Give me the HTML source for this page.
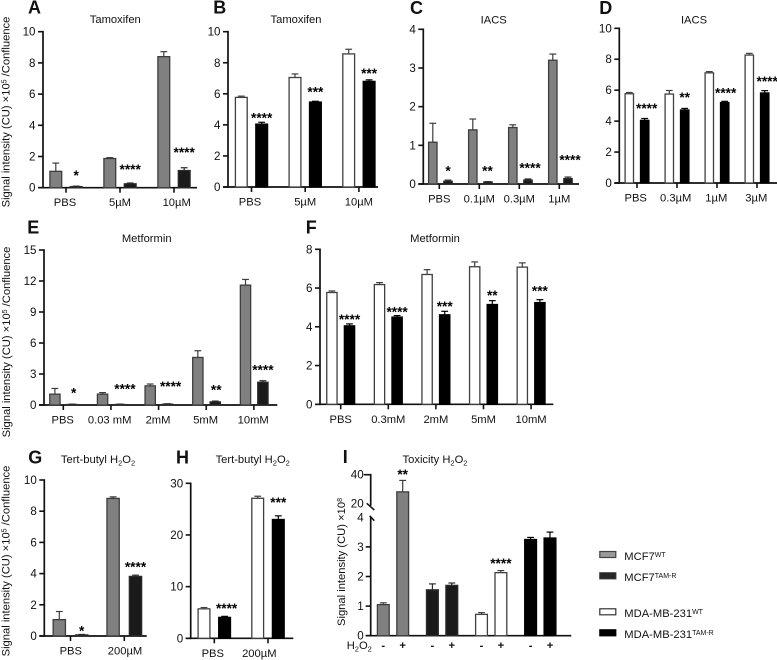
<!DOCTYPE html>
<html lang="en">
<head>
<meta charset="utf-8">
<title>Signal intensity bar charts</title>
<style>
html,body{margin:0;padding:0;background:#fff;}
body{width:777px;height:660px;overflow:hidden;}
svg{display:block;filter:blur(0.3px);font-family:"Liberation Sans",sans-serif;fill:#111;}
text{font-size:11.2px;}
</style>
</head>
<body>
<svg id="figure" width="777" height="660" viewBox="0 0 777 660" xmlns="http://www.w3.org/2000/svg">
  <text transform="translate(9.5,112) rotate(-90)" text-anchor="middle">Signal intensity (CU) ×10<tspan dy="-3" style="font-size:7px">5</tspan><tspan dy="3"> /Confluence</tspan></text>
  <text transform="translate(10,342) rotate(-90)" text-anchor="middle">Signal intensity (CU) ×10<tspan dy="-3" style="font-size:7px">5</tspan><tspan dy="3"> /Confluence</tspan></text>
  <text transform="translate(9.5,561) rotate(-90)" text-anchor="middle">Signal intensity (CU) ×10<tspan dy="-3" style="font-size:7px">5</tspan><tspan dy="3"> /Confluence</tspan></text>
  <text transform="translate(345,562) rotate(-90)" text-anchor="middle">Signal intensity (CU) ×10<tspan dy="-3" style="font-size:7px">8</tspan></text>

  <g>
    <rect x="599.8" y="551.5" width="16" height="6" fill="#9a9a9a" stroke="#444" stroke-width="1.2"/>
    <text x="624.3" y="560">MCF7<tspan dy="-3" style="font-size:7px">WT</tspan></text>
    <rect x="599.8" y="572.8" width="16" height="6" fill="#262626" stroke="#333" stroke-width="1.2"/>
    <text x="624.3" y="581">MCF7<tspan dy="-3" style="font-size:7px">TAM-R</tspan></text>
    <rect x="599.8" y="608.8" width="16" height="6" fill="#fff" stroke="#333" stroke-width="1.2"/>
    <text x="624.3" y="617">MDA-MB-231<tspan dy="-3" style="font-size:7px">WT</tspan></text>
    <rect x="599.8" y="629.8" width="16" height="6" fill="#000" stroke="#000" stroke-width="1.2"/>
    <text x="624.3" y="638">MDA-MB-231<tspan dy="-3" style="font-size:7px">TAM-R</tspan></text>
  </g>
</svg>
<script>
// ---------- Chart data ----------
const panelAGroups = ['PBS', '5µM', '10µM'];
const panelATicks = [0, 2, 4, 6, 8, 10];
const panelAControl = [1.05, 1.87, 8.4];
const panelAControlErr = [0.53, 0.06, 0.32];
const panelATreated = [0.07, 0.25, 1.1];
const panelATreatedErr = [0.03, 0.05, 0.18];
const panelAStars = ['*', '****', '****'];

const panelBGroups = ['PBS', '5µM', '10µM'];
const panelBTicks = [0, 2, 4, 6, 8, 10];
const panelBControl = [5.77, 7.05, 8.57];
const panelBControlErr = [0.08, 0.23, 0.3];
const panelBTreated = [4.05, 5.47, 6.8];
const panelBTreatedErr = [0.12, 0.05, 0.1];
const panelBStars = ['****', '***', '***'];

const panelCGroups = ['PBS', '0.1µM', '0.3µM', '1µM'];
const panelCTicks = [0, 1, 2, 3, 4];
const panelCControl = [1.08, 1.4, 1.46, 3.2];
const panelCControlErr = [0.49, 0.28, 0.07, 0.16];
const panelCTreated = [0.07, 0.05, 0.1, 0.14];
const panelCTreatedErr = [0.03, 0.01, 0.03, 0.04];
const panelCStars = ['*', '**', '****', '****'];

const panelDGroups = ['PBS', '0.3µM', '1µM', '3µM'];
const panelDTicks = [0, 2, 4, 6, 8, 10];
const panelDControl = [5.77, 5.75, 7.12, 8.27];
const panelDControlErr = [0.08, 0.23, 0.08, 0.11];
const panelDTreated = [4.05, 4.72, 5.2, 5.82];
const panelDTreatedErr = [0.12, 0.1, 0.08, 0.15];
const panelDStars = ['****', '**', '****', '****'];

const panelEGroups = ['PBS', '0.03 mM', '2mM', '5mM', '10mM'];
const panelETicks = [0, 3, 6, 9, 12, 15];
const panelEControl = [1.05, 1.05, 1.85, 4.6, 11.6];
const panelEControlErr = [0.55, 0.15, 0.18, 0.65, 0.55];
const panelETreated = [0.05, 0.05, 0.08, 0.3, 2.2];
const panelETreatedErr = [0.03, 0.03, 0.04, 0.08, 0.15];
const panelEStars = ['*', '****', '****', '**', '****'];

const panelFGroups = ['PBS', '0.3mM', '2mM', '5mM', '10mM'];
const panelFTicks = [0, 2, 4, 6, 8];
const panelFControl = [5.77, 6.18, 6.7, 7.1, 7.08];
const panelFControlErr = [0.08, 0.1, 0.25, 0.25, 0.22];
const panelFTreated = [4.05, 4.5, 4.62, 5.15, 5.25];
const panelFTreatedErr = [0.1, 0.08, 0.18, 0.2, 0.15];
const panelFStars = ['****', '****', '***', '**', '***'];

const panelGGroups = ['PBS', '200µM'];
const panelGTicks = [0, 2, 4, 6, 8, 10];
const panelGControl = [1.05, 8.82];
const panelGControlErr = [0.52, 0.1];
const panelGTreated = [0.07, 3.82];
const panelGTreatedErr = [0.03, 0.08];
const panelGStars = ['*', '****'];

const panelHGroups = ['PBS', '200µM'];
const panelHTicks = [0, 10, 20, 30];
const panelHControl = [5.7, 27.1];
const panelHControlErr = [0.25, 0.4];
const panelHTreated = [4.05, 23];
const panelHTreatedErr = [0.2, 0.7];
const panelHStars = ['****', '***'];

const panelISigns = ['-', '+', '-', '+', '-', '+', '-', '+'];
const panelILowTicks = [0, 1, 2, 3, 4];
const panelIHighTicks = [20, 40];
const panelIValues = [1.05, 28, 1.55, 1.7, 0.72, 2.13, 3.25, 3.3];
const panelIErrors = [0.06, 8, 0.2, 0.08, 0.06, 0.07, 0.07, 0.2];
const panelIStars = ['', '**', '', '', '', '****', '', ''];

// ---------- Styles ----------
const GRAY = {fill: '#808080', stroke: '#3d3d3d'};
const DARK = {fill: '#1a1a1a', stroke: '#2a2a2a'};
const WHITE = {fill: '#ffffff', stroke: '#404040'};
const BLACK = {fill: '#000000', stroke: '#000000'};
const AXIS = '#111';

// ---------- Drawing helpers ----------
const NS = 'http://www.w3.org/2000/svg';
const root = document.getElementById('figure');
function make(tag, parent, attrs) {
  const node = document.createElementNS(NS, tag);
  for (const k in attrs) node.setAttribute(k, attrs[k]);
  parent.appendChild(node);
  return node;
}
function drawBar(parent, name, cx, w, yBase, yVal, yErr, style) {
  const bar = make('rect', parent, {x: cx - w / 2 + 0.6, y: yVal, width: w - 1.2, height: Math.max(0.2, yBase - yVal),
    fill: style.fill, stroke: style.stroke, 'stroke-width': 1.3});
  
  
  const stem = make('line', parent, {x1: cx, x2: cx, y1: yVal, y2: yErr, stroke: style.stroke, 'stroke-width': 1.2});
  
  
  const cap = make('line', parent, {x1: cx - 3.4, x2: cx + 3.4, y1: yErr, y2: yErr, stroke: style.stroke, 'stroke-width': 1.2});
  
  
}
function drawStars(parent, name, text, x, cy) {
  const t = make('text', parent, {x: x, y: cy + 7.2, 'text-anchor': 'middle', fill: '#000', 'font-weight': 'bold'});
  t.style.fontSize = '13.7px';
  t.textContent = text;
  
  
}
function drawFrameText(parent, id, letter, lx, ly, title, tx, ty) {
  const l = make('text', parent, {x: lx, y: ly, 'font-weight': 'bold'});
  l.style.fontSize = '18px';
  l.textContent = letter;
  
  
  const t = make('text', parent, {x: tx, y: ty, 'text-anchor': 'middle'});
  
  
  title.forEach(part => {
    const s = make('tspan', t, part[1] ? {dy: 2.5} : {dy: part[2] ? -2.5 : 0});
    if (part[1]) s.style.fontSize = '7.5px';
    s.textContent = part[0];
  });
}

function drawPanel(cfg) {
  const g = make('g', root, {});
  
  
  drawFrameText(g, cfg.id, cfg.letter, cfg.lx, cfg.ly, cfg.title, cfg.tx, cfg.ty);

  const yMax = cfg.ticks[cfg.ticks.length - 1];
  const y = v => cfg.y0 - (v / yMax) * (cfg.y0 - cfg.yTop);
  const xTick = i => cfg.firstTick + i * cfg.step;

  const yAxis = make('line', g, {x1: cfg.ax, x2: cfg.ax, y1: cfg.yTop - 0.8, y2: cfg.y0 + 0.8, stroke: AXIS, 'stroke-width': 1.7});
  
  
  const xAxis = make('line', g, {x1: cfg.ax - 5, x2: cfg.xEnd, y1: cfg.y0, y2: cfg.y0, stroke: AXIS, 'stroke-width': 1.7});
  
  

  cfg.ticks.forEach(v => {
    const t = make('line', g, {x1: cfg.ax - 5, x2: cfg.ax, y1: y(v), y2: y(v), stroke: AXIS, 'stroke-width': 1.6});
    
    
    const l = make('text', g, {x: cfg.ax - 7.5, y: y(v) + 4, 'text-anchor': 'end'});
    l.textContent = v;
    l.style.fontSize = '11.6px';
    
    
  });

  cfg.groups.forEach((name, i) => {
    const x = xTick(i);
    const t = make('line', g, {x1: x, x2: x, y1: cfg.y0, y2: cfg.y0 + 5, stroke: AXIS, 'stroke-width': 1.6});
    
    
    const l = make('text', g, {x: x + (cfg.labelDx ? cfg.labelDx[i] : 0), y: cfg.y0 + 18.5, 'text-anchor': 'middle'});
    l.textContent = name;
    
    

    const cx1 = x - cfg.off + (cfg.barDx || 0);
    const cx2 = x + cfg.off + (cfg.barDx || 0);
    drawBar(g, cfg.id + '-control-' + i, cx1, cfg.barW, cfg.y0, y(cfg.control[i]), y(cfg.control[i] + cfg.controlErr[i]), cfg.styleA);
    drawBar(g, cfg.id + '-treated-' + i, cx2, cfg.barW, cfg.y0, y(cfg.treated[i]), y(cfg.treated[i] + cfg.treatedErr[i]), cfg.styleB);
    drawStars(g, cfg.id + '-' + i, cfg.stars[i], cx2 + (cfg.starDx ? cfg.starDx[i] : 0), y(cfg.treated[i] + cfg.treatedErr[i]) - cfg.starGap[i]);
  });
}

drawPanel({id: 'a', letter: 'A', lx: 28, ly: 13.5, title: [['Tamoxifen']], tx: 115.3, ty: 23,
  ax: 43, y0: 187.7, yTop: 31.7, xEnd: 197, firstTick: 66, step: 54, off: 10.2, barW: 13, barDx: 0,
  labelDx: [-1, 0, 2.7],
  ticks: panelATicks, groups: panelAGroups, control: panelAControl, controlErr: panelAControlErr,
  treated: panelATreated, treatedErr: panelATreatedErr, stars: panelAStars, starGap: [13.4, 16, 17.7],
  styleA: GRAY, styleB: DARK});
drawPanel({id: 'b', letter: 'B', lx: 213.3, ly: 13.5, title: [['Tamoxifen']], tx: 296, ty: 23,
  ax: 228, y0: 187, yTop: 31.7, xEnd: 378, firstTick: 251.5, step: 53.7, off: 10.2, barW: 13, barDx: 0,
  labelDx: [-1.5, 0, 0],
  ticks: panelBTicks, groups: panelBGroups, control: panelBControl, controlErr: panelBControlErr,
  treated: panelBTreated, treatedErr: panelBTreatedErr, stars: panelBStars, starGap: [7, 12, 9],
  styleA: WHITE, styleB: BLACK});
drawPanel({id: 'c', letter: 'C', lx: 410, ly: 14, title: [['IACS']], tx: 493.7, ty: 23.5,
  ax: 423.3, y0: 184, yTop: 29.3, xEnd: 579, firstTick: 439.3, step: 40, off: 7.6, barW: 9.6, barDx: 1.1,
  ticks: panelCTicks, groups: panelCGroups, control: panelCControl, controlErr: panelCControlErr,
  treated: panelCTreated, treatedErr: panelCTreatedErr, stars: panelCStars, starGap: [11.8, 13.4, 13.7, 19.7],
  starDx: [0, -0.5, 2, 2], styleA: GRAY, styleB: DARK});
drawPanel({id: 'd', letter: 'D', lx: 599.3, ly: 14, title: [['IACS']], tx: 694, ty: 23.5,
  ax: 619.3, y0: 183, yTop: 28.3, xEnd: 777, firstTick: 637, step: 40, off: 7.7, barW: 9.6, barDx: 0,
  labelDx: [-1.3, -1.3, -0.7, -0.7],
  ticks: panelDTicks, groups: panelDGroups, control: panelDControl, controlErr: panelDControlErr,
  treated: panelDTreated, treatedErr: panelDTreatedErr, stars: panelDStars, starGap: [12.5, 13.4, 11, 12],
  starDx: [2, 0, 1, 2.5], styleA: WHITE, styleB: BLACK});
drawPanel({id: 'e', letter: 'E', lx: 27.3, ly: 233.3, title: [['Metformin']], tx: 146.7, ty: 242,
  ax: 44, y0: 405, yTop: 250, xEnd: 277.3, firstTick: 63.3, step: 47.65, off: 8.7, barW: 11.5, barDx: 0.3,
  labelDx: [-0.6, -1.3, -0.6, -0.6, -0.7],
  ticks: panelETicks, groups: panelEGroups, control: panelEControl, controlErr: panelEControlErr,
  treated: panelETreated, treatedErr: panelETreatedErr, stars: panelEStars, starGap: [14, 18, 20, 14, 13.4],
  starDx: [1.4, 5, 3, 1, 0], styleA: GRAY, styleB: DARK});
drawPanel({id: 'f', letter: 'F', lx: 305.7, ly: 233.5, title: [['Metformin']], tx: 435, ty: 242,
  ax: 320, y0: 404.3, yTop: 249.3, xEnd: 553.3, firstTick: 340.7, step: 47.6, off: 8.8, barW: 11.5, barDx: 0,
  ticks: panelFTicks, groups: panelFGroups, control: panelFControl, controlErr: panelFControlErr,
  treated: panelFTreated, treatedErr: panelFTreatedErr, stars: panelFStars, starGap: [7, 6.5, 7.7, 8, 11.5],
  styleA: WHITE, styleB: BLACK});
drawPanel({id: 'g', letter: 'G', lx: 28.3, ly: 463.3,
  title: [['Tert-butyl H'], ['2', true], ['O', false, true], ['2', true]], tx: 98, ty: 463,
  ax: 44.3, y0: 636, yTop: 480, xEnd: 146.7, firstTick: 70.5, step: 53.8, off: 11.2, barW: 13.5, barDx: 0,
  labelDx: [0.3, 0.7],
  ticks: panelGTicks, groups: panelGGroups, control: panelGControl, controlErr: panelGControlErr,
  treated: panelGTreated, treatedErr: panelGTreatedErr, stars: panelGStars, starGap: [6, 11],
  styleA: GRAY, styleB: DARK});
drawPanel({id: 'h', letter: 'H', lx: 176, ly: 463.3,
  title: [['Tert-butyl H'], ['2', true], ['O', false, true], ['2', true]], tx: 252.7, ty: 463,
  ax: 190.7, y0: 638.3, yTop: 483.3, xEnd: 293.3, firstTick: 214.3, step: 53.7, off: 10.3, barW: 13, barDx: 0,
  labelDx: [-1.5, -8.7],
  ticks: panelHTicks, groups: panelHGroups, control: panelHControl, controlErr: panelHControlErr,
  treated: panelHTreated, treatedErr: panelHTreatedErr, stars: panelHStars, starGap: [10.6, 16],
  starDx: [2, 0], styleA: WHITE, styleB: BLACK});

// ---------- Panel I (broken axis) ----------
(function drawPanelI() {
  const g = make('g', root, {});
  
  
  drawFrameText(g, 'i', 'I', 342.7, 463, [['Toxicity H'], ['2', true], ['O', false, true], ['2', true]], 435, 463);

  const ax = 370.7, y0 = 635.7, y4 = 517.3, y20 = 503.3, y40 = 474.7;
  const yLow = v => y0 - (v / 4) * (y0 - y4);
  const yHigh = v => y20 - ((v - 20) / 20) * (y20 - y40);
  const y = v => (v <= 4 ? yLow(v) : yHigh(v));
  const xFirst = 393, groupStep = 49.1, pairOff = 9.7, barW = 13;
  const xBar = i => xFirst + Math.floor(i / 2) * groupStep + (i % 2 ? pairOff : -pairOff);
  const styles = [GRAY, DARK, WHITE, BLACK];

  const upper = make('line', g, {x1: ax, x2: ax, y1: y40 - 0.8, y2: y20 + 2.5, stroke: AXIS, 'stroke-width': 1.7});
  
  
  const lower = make('line', g, {x1: ax, x2: ax, y1: y4, y2: y0 + 0.8, stroke: AXIS, 'stroke-width': 1.7});
  
  
  const xAxis = make('line', g, {x1: ax - 5, x2: 571.3, y1: y0, y2: y0, stroke: AXIS, 'stroke-width': 1.7});
  
  

  const slashA = make('line', g, {x1: ax - 4, y1: y20, x2: ax + 3.6, y2: y20 + 6.7, stroke: AXIS, 'stroke-width': 1.5});
  
  
  const slashB = make('line', g, {x1: ax - 1, y1: y4 - 1.5, x2: ax + 3.6, y2: y4 + 3.4, stroke: AXIS, 'stroke-width': 1.5});
  
  

  panelILowTicks.forEach(v => {
    if (v !== 4) {
      const t = make('line', g, {x1: ax - 5, x2: ax, y1: yLow(v), y2: yLow(v), stroke: AXIS, 'stroke-width': 1.6});
      
      
    }
    const l = make('text', g, {x: ax - 7, y: yLow(v) + 4, 'text-anchor': 'end'});
    l.style.fontSize = '11.6px';
    l.textContent = v;
    
    
  });
  panelIHighTicks.forEach(v => {
    if (v !== 20) {
      const t = make('line', g, {x1: ax - 7, x2: ax, y1: yHigh(v), y2: yHigh(v), stroke: AXIS, 'stroke-width': 1.6});
      
      
    }
    const l = make('text', g, {x: ax - 7, y: yHigh(v) + 4, 'text-anchor': 'end'});
    l.style.fontSize = '11.6px';
    l.textContent = v;
    
    
  });

  panelIValues.forEach((v, i) => {
    const cx = xBar(i);
    drawBar(g, 'i-' + i, cx, barW, y0, y(v), y(v + panelIErrors[i]), styles[Math.floor(i / 2)]);
    if (panelIStars[i]) {
      drawStars(g, 'i-' + i, panelIStars[i], cx, y(v + panelIErrors[i]) - (v > 4 ? 8.7 : 10));
    }
    const s = make('text', g, {x: cx, y: 649, 'text-anchor': 'middle', 'font-weight': 'bold'});
    s.textContent = panelISigns[i];
    
    
  });

  const h = make('text', g, {x: 346.7, y: 649});
  
  
  [['H', 0, 0], ['2', 2.5, 1], ['O', -2.5, 0], ['2', 2.5, 1]].forEach(p => {
    const s = make('tspan', h, {dy: p[1]});
    if (p[2]) s.style.fontSize = '7.5px';
    s.textContent = p[0];
  });
})();
</script>
</body>
</html>
